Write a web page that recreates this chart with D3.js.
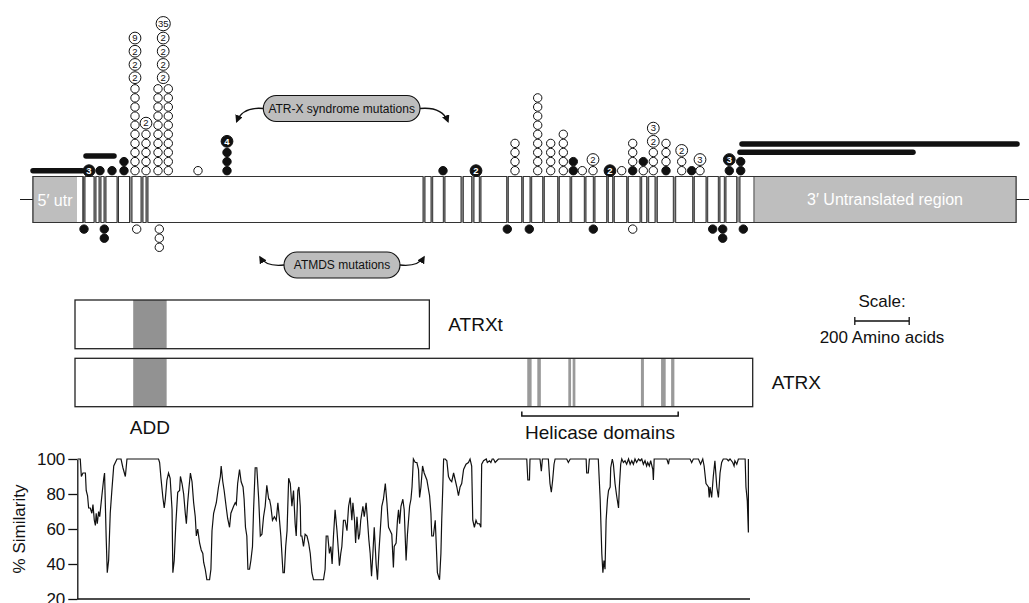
<!DOCTYPE html>
<html>
<head>
<meta charset="utf-8">
<script src="https://cdn.jsdelivr.net/npm/d3@7/dist/d3.min.js"></script>
<style>
body { margin: 0; background: #fff; }
svg { display: block; font-family: "Liberation Sans", Arial, Helvetica, sans-serif; }
</style>
</head>
<body>
<svg id="chart" width="1029" height="603"></svg>
<script>
// gene diagram: positions in relative units along the drawn gene (0..1000)
var exons = [[3,53],[55,64],[66,69],[71,74],[76,87],[88.5,99.5],[102,111],[113,116],[118,393],
  [395,401],[402.7,413.3],[415,431],[433.3,441.7],[444,449.3],[451,476.7],[478.3,491.7],[493.3,500],
  [501.7,512.7],[514.3,527.7],[529.3,540],[541.7,554.3],[556,563.3],[565,576.7],[578.3,582.7],
  [584.3,596.7],[598.3,610],[611.7,616.7],[618.7,625],[627.3,643.3],[645.7,662.7],[664.3,676],
  [677.7,688.3],[690,694.3],[696,706.7],[710,986]];
var utr5 = [3,47];
var utr3 = [724,986];

// mutation stacks: o = open circle, f = filled circle, trailing digits = count label
var mutsAbove = [
  {pos:59, stack:["f3"]},
  {pos:70, stack:["f"]},
  {pos:82, stack:["f"]},
  {pos:94, stack:["f","f"]},
  {pos:105, stack:["o","o","o","o","o","o","o","o","o","o","o2","o2","o2","o9"]},
  {pos:116, stack:["o","o","o","o","o","o2"]},
  {pos:128, stack:["o","o","o","o","o","o","o","o","o","o"]},
  {pos:138.3, stack:["o","o","o","o","o","o","o","o","o","o"]},
  {pos:133.2, skip:10, stack:["o2","o2","o2","o2","o35"]},
  {pos:168, stack:["o"]},
  {pos:197, stack:["f","f","f","f4"]},
  {pos:413, stack:["f"]},
  {pos:446, stack:["f2"]},
  {pos:485, stack:["o","o","o","o"]},
  {pos:507.7, stack:["o","o","o","o","o","o","o","o","o"]},
  {pos:520.7, stack:["o","o","o","o"]},
  {pos:533.3, stack:["o","o","o","o","o"]},
  {pos:543.3, stack:["f","f"]},
  {pos:552.3, stack:["o"]},
  {pos:563, stack:["o","o2"]},
  {pos:580, stack:["f2"]},
  {pos:591.7, stack:["o"]},
  {pos:602.7, stack:["f","o","o","o"]},
  {pos:613.3, stack:["o","f"]},
  {pos:623.3, stack:["o","o","o","o2","o3"]},
  {pos:636, stack:["f","o","o","o"]},
  {pos:651.7, stack:["o","o","o2"]},
  {pos:661.7, stack:["f"]},
  {pos:670, stack:["o","o3"]},
  {pos:699.3, stack:["f","f3"]},
  {pos:710.7, stack:["f","f"]}
];
var mutsBelow = [
  {pos:54, stack:["f"]},
  {pos:74.3, stack:["f","f"]},
  {pos:106.7, stack:["o"]},
  {pos:129.3, stack:["o","o","o"]},
  {pos:477.3, stack:["f"]},
  {pos:499.3, stack:["f"]},
  {pos:563.3, stack:["f"]},
  {pos:602.7, stack:["o"]},
  {pos:682.7, stack:["f"]},
  {pos:692.7, stack:["f","f"]},
  {pos:713.3, stack:["f"]}
];
// deletions (black bars), lane = stacking level above the gene
var deletions = [
  {from:3, to:52, lane:0},
  {from:56, to:84, lane:1},
  {from:710, to:883, lane:2},
  {from:712, to:987, lane:3}
];

// protein (amino acids)
var atrxLength = 2492;
var atrxtLength = 1303;
var addDomain = [214, 337];
var helicaseStripes = [[1663,1679],[1700,1713],[1814,1824],[1830,1840],[2081,2092],[2155,2172],[2192,2204]];
var helicaseSpan = [1643, 2218];
var scaleBarAA = 200;

// % similarity along the protein: [amino acid, percent]
var similarity = [
  [1,100],[11,100],[15,90],[21,92],[30,92],[33,82],[38,79],[42,72],[48,72],[54,69],[58,74],[63,65],[67,62],
  [70,69],[74,63],[79,70],[83,67],[91,79],[98,89],[101,92],[107,55],[111,35],[116,42],[122,69],[128,82],
  [135,96],[147,100],[157,100],[162,100],[169,95],[178,90],[184,100],[190,100],[295,100],[301,100],[305,98],
  [310,89],[317,78],[322,72],[326,77],[332,88],[338,92],[344,89],[351,71],[354,35],[359,42],[365,63],[372,81],
  [379,82],[382,90],[388,86],[394,80],[400,69],[404,63],[409,75],[414,84],[419,92],[425,87],[431,75],[437,67],
  [441,56],[446,60],[453,52],[459,48],[465,46],[468,41],[474,37],[480,31],[490,31],[495,37],[499,59],[505,69],
  [515,75],[523,84],[530,90],[533,96],[539,87],[544,82],[552,72],[557,66],[564,61],[569,69],[574,71],[579,73],
  [585,75],[589,74],[594,86],[601,94],[607,87],[614,84],[618,77],[623,61],[628,56],[632,37],[638,37],[643,42],
  [649,50],[653,71],[659,95],[665,95],[672,77],[678,56],[684,57],[690,67],[696,73],[702,85],[709,77],[712,77],
  [717,73],[723,65],[730,67],[737,65],[743,75],[748,67],[754,56],[762,35],[767,35],[772,50],[777,59],[783,89],
  [789,86],[795,73],[801,82],[807,63],[811,56],[817,82],[821,84],[826,73],[828,56],[832,56],[838,50],[844,57],
  [851,56],[857,52],[863,46],[869,35],[875,31],[912,31],[918,37],[922,56],[928,56],[934,46],[939,50],[944,40],
  [949,56],[955,71],[962,59],[968,46],[971,39],[976,46],[980,50],[986,65],[992,65],[999,59],[1005,73],[1011,78],
  [1017,65],[1021,75],[1027,65],[1031,52],[1036,67],[1042,54],[1046,57],[1050,65],[1058,73],[1063,67],[1070,75],
  [1075,65],[1080,54],[1085,46],[1090,33],[1095,46],[1100,61],[1107,40],[1112,31],[1117,46],
  [1128,73],[1134,77],[1141,86],[1147,75],[1153,61],[1159,59],[1165,57],[1171,38],[1174,50],[1181,52],[1186,65],
  [1190,71],[1194,63],[1199,73],[1206,77],[1211,71],[1218,42],[1223,57],[1231,73],[1236,77],[1240,84],[1245,100],
  [1252,98],[1258,98],[1264,94],[1268,78],[1273,84],[1279,96],[1285,92],[1295,88],[1305,79],[1310,69],[1313,56],
  [1319,56],[1326,65],[1329,54],[1334,35],[1342,31],[1347,46],[1350,65],[1354,84],[1357,100],[1363,100],[1369,99],
  [1375,90],[1381,88],[1387,87],[1394,92],[1400,88],[1406,84],[1412,79],[1418,84],[1424,86],[1431,94],[1440,97],
  [1449,98],[1455,100],[1461,96],[1465,65],[1471,61],[1477,65],[1482,63],[1490,63],[1495,61],[1498,97],[1505,99],
  [1515,100],[1519,98],[1527,99],[1532,98],[1537,100],[1542,100],[1548,98],[1554,99],[1560,100],[1573,100],
  [1665,100],[1669,88],[1675,88],[1677,100],[1714,100],[1719,93],[1723,100],[1745,100],[1751,86],[1756,81],
  [1761,88],[1766,97],[1770,100],[1813,100],[1819,98],[1826,100],[1885,100],[1887,92],[1893,92],[1897,100],
  [1930,100],[1937,77],[1943,46],[1947,35],[1951,42],[1955,37],[1959,65],[1964,77],[1968,82],[1974,84],[1976,95],
  [1982,100],[1986,97],[1992,86],[1998,79],[2005,72],[2008,84],[2013,97],[2017,100],[2023,98],[2029,99],[2035,97],
  [2042,100],[2048,97],[2054,99],[2060,97],[2066,100],[2072,98],[2079,100],[2085,99],[2091,100],[2097,97],
  [2103,99],[2109,96],[2113,98],[2119,96],[2124,99],[2132,94],[2134,88],[2137,100],[2184,100],[2190,97],
  [2193,100],[2270,100],[2276,98],[2282,100],[2301,100],[2309,97],[2317,100],[2322,96],[2329,86],[2338,84],
  [2341,78],[2344,84],[2350,78],[2356,90],[2362,99],[2369,84],[2375,78],[2381,92],[2387,98],[2393,100],
  [2406,100],[2412,99],[2418,100],[2428,98],[2433,96],[2436,99],[2443,97],[2449,100],[2467,100],[2474,100],
  [2477,84],[2482,76],[2486,58],[2486,100]
];
var simTicks = [20, 40, 60, 80, 100];

var svg = d3.select("#chart");
var ink = "#1a1a1a";

// ---------- gene diagram ----------
var gx = d3.scaleLinear().domain([0, 1000]).range([30, 1030]);
var barTop = 176.5, barH = 46, barMid = barTop + barH / 2;

svg.append("line")
  .attr("x1", gx(-10)).attr("x2", gx(999))
  .attr("y1", barMid).attr("y2", barMid)
  .attr("stroke", ink).attr("stroke-width", 1.2);

svg.append("rect")
  .attr("x", gx(exons[0][0])).attr("y", barTop)
  .attr("width", gx(exons[exons.length - 1][1]) - gx(exons[0][0])).attr("height", barH)
  .attr("fill", "#8c8c8c");

svg.selectAll("rect.exon").data(exons).enter().append("rect")
  .attr("class", "exon")
  .attr("x", d => gx(d[0])).attr("y", barTop)
  .attr("width", d => gx(d[1]) - gx(d[0])).attr("height", barH)
  .attr("fill", "#fff").attr("stroke", "#333").attr("stroke-width", 1);

[utr5, utr3].forEach(u => {
  svg.append("rect")
    .attr("x", gx(u[0]) + 0.5).attr("y", barTop + 0.5)
    .attr("width", gx(u[1]) - gx(u[0]) - 0.5).attr("height", barH - 1)
    .attr("fill", "#bebebe");
});
svg.append("rect")
  .attr("x", gx(utr3[0])).attr("y", barTop)
  .attr("width", gx(utr3[1]) - gx(utr3[0])).attr("height", barH)
  .attr("fill", "none").attr("stroke", "#333");
svg.append("rect")
  .attr("x", gx(exons[0][0])).attr("y", barTop)
  .attr("width", gx(exons[0][1]) - gx(exons[0][0])).attr("height", barH)
  .attr("fill", "none").attr("stroke", "#333");

svg.append("text").attr("x", gx((utr5[0] + utr5[1]) / 2)).attr("y", barMid + 6.5)
  .attr("text-anchor", "middle").attr("fill", "#fff").attr("font-size", 16).text("5\u2032 utr");
svg.append("text").attr("x", gx((utr3[0] + utr3[1]) / 2)).attr("y", barMid + 5)
  .attr("text-anchor", "middle").attr("fill", "#fff").attr("font-size", 16).text("3\u2032 Untranslated region");

// deletions
var laneOffset = [5.8, 20.5, 24.2, 32.5];
svg.selectAll("line.del").data(deletions).enter().append("line")
  .attr("class", "del")
  .attr("x1", d => gx(d.from)).attr("x2", d => gx(d.to))
  .attr("y1", d => barTop - laneOffset[d.lane]).attr("y2", d => barTop - laneOffset[d.lane])
  .attr("stroke", "#111").attr("stroke-width", 5.5).attr("stroke-linecap", "round");

// mutation symbols
var rPlain = 4.2, rLab = 5.9, rBig = 7.1;
function radiusOf(tok) {
  var lab = tok.slice(1);
  if (!lab) return rPlain;
  return lab.length > 1 ? rBig : rLab;
}
function drawStacks(list, dir) {
  list.forEach(m => {
    var cx = gx(m.pos);
    var y = dir < 0 ? barTop - 5.8 : barTop + barH + 6.6;
    var prevHalf = null;
    if (m.skip) {
      y += dir * 9.1 * (m.skip - 1);
      prevHalf = 4.55;
    }
    m.stack.forEach(tok => {
      var r = radiusOf(tok);
      var half = tok.length > 1 ? r + 0.7 : 4.55;
      if (prevHalf !== null) y += dir * (prevHalf + half);
      prevHalf = half;
      var filled = tok[0] === "f";
      svg.append("circle")
        .attr("cx", cx).attr("cy", y).attr("r", r)
        .attr("fill", filled ? "#111" : "#fff")
        .attr("stroke", "#111").attr("stroke-width", 1);
      var lab = tok.slice(1);
      if (lab) {
        svg.append("text")
          .attr("x", cx).attr("y", y + 3.3)
          .attr("text-anchor", "middle")
          .attr("font-size", 9.5)
          .attr("font-weight", filled ? "bold" : "normal")
          .attr("fill", filled ? "#fff" : "#111")
          .text(lab);
      }
    });
  });
}
drawStacks(mutsAbove, -1);
drawStacks(mutsBelow, 1);

// callout pills
var defs = svg.append("defs");
defs.append("marker").attr("id", "ah")
  .attr("viewBox", "0 0 10 10").attr("refX", 8).attr("refY", 5)
  .attr("markerWidth", 6).attr("markerHeight", 6).attr("orient", "auto")
  .append("path").attr("d", "M0,0 L10,5 L0,10 z").attr("fill", "#111");

var callouts = [
  {text: "ATR-X syndrome mutations", from: 233.3, to: 390, cy: 108.5, h: 26, left: 206.7, right: 418, tipDy: 13},
  {text: "ATMDS mutations", from: 254, to: 370, cy: 265, h: 26, left: 230, right: 394, tipDy: -8}
];
callouts.forEach(c => {
  var x0 = gx(c.from), x1 = gx(c.to);
  svg.append("rect")
    .attr("x", x0).attr("y", c.cy - c.h / 2).attr("width", x1 - x0).attr("height", c.h)
    .attr("rx", c.h / 2).attr("fill", "#bdbdbd").attr("stroke", "#111").attr("stroke-width", 1.1);
  svg.append("text").attr("x", (x0 + x1) / 2).attr("y", c.cy + 4.3)
    .attr("text-anchor", "middle").attr("font-size", 12).attr("fill", "#111").text(c.text);
  var lx = gx(c.left), rx = gx(c.right);
  svg.append("path")
    .attr("d", "M" + x0 + "," + c.cy + " Q" + (lx + 6) + "," + (c.cy - (c.tipDy > 0 ? 2 : -2)) + " " + lx + "," + (c.cy + c.tipDy))
    .attr("fill", "none").attr("stroke", "#111").attr("stroke-width", 1.3).attr("marker-end", "url(#ah)");
  svg.append("path")
    .attr("d", "M" + x1 + "," + c.cy + " Q" + (rx - 6) + "," + (c.cy - (c.tipDy > 0 ? 2 : -2)) + " " + rx + "," + (c.cy + c.tipDy))
    .attr("fill", "none").attr("stroke", "#111").attr("stroke-width", 1.3).attr("marker-end", "url(#ah)");
});

// ---------- proteins ----------
var px = d3.scaleLinear().domain([0, atrxLength]).range([75, 752.7]);
var proteins = [
  {name: "ATRXt", len: atrxtLength, y: 300, h: 48.7},
  {name: "ATRX", len: atrxLength, y: 358.3, h: 48.4}
];
proteins.forEach((p, i) => {
  svg.append("rect").attr("x", px(0)).attr("y", p.y)
    .attr("width", px(p.len) - px(0)).attr("height", p.h)
    .attr("fill", "#fff");
  svg.append("rect").attr("x", px(addDomain[0])).attr("y", p.y)
    .attr("width", px(addDomain[1]) - px(addDomain[0])).attr("height", p.h)
    .attr("fill", "#929292");
  if (i === 1) {
    svg.selectAll("rect.hel").data(helicaseStripes).enter().append("rect")
      .attr("class", "hel")
      .attr("x", d => px(d[0])).attr("y", p.y)
      .attr("width", d => px(d[1]) - px(d[0])).attr("height", p.h)
      .attr("fill", "#9a9a9a");
  }
  svg.append("rect").attr("x", px(0)).attr("y", p.y)
    .attr("width", px(p.len) - px(0)).attr("height", p.h)
    .attr("fill", "none").attr("stroke", "#222").attr("stroke-width", 1.3);
  svg.append("text").attr("x", px(p.len) + 19).attr("y", p.y + p.h / 2 + 6.5)
    .attr("font-size", 19).attr("fill", "#111").text(p.name);
});
svg.append("text").attr("x", px((addDomain[0] + addDomain[1]) / 2)).attr("y", 434)
  .attr("text-anchor", "middle").attr("font-size", 19).attr("fill", "#111").text("ADD");

var bx0 = px(helicaseSpan[0]), bx1 = px(helicaseSpan[1]);
svg.append("path")
  .attr("d", "M" + bx0 + ",411.5 V416 H" + bx1 + " V411.5")
  .attr("fill", "none").attr("stroke", "#111").attr("stroke-width", 1.5);
svg.append("text").attr("x", (bx0 + bx1) / 2).attr("y", 439)
  .attr("text-anchor", "middle").attr("font-size", 19).attr("fill", "#111").text("Helicase domains");

// scale bar
var sbw = px(scaleBarAA) - px(0), sbc = 882;
svg.append("text").attr("x", sbc).attr("y", 307).attr("text-anchor", "middle")
  .attr("font-size", 17).attr("fill", "#111").text("Scale:");
svg.append("path")
  .attr("d", "M" + (sbc - sbw / 2) + ",317 V325 M" + (sbc - sbw / 2) + ",321 H" + (sbc + sbw / 2) + " M" + (sbc + sbw / 2) + ",317 V325")
  .attr("fill", "none").attr("stroke", "#111").attr("stroke-width", 1.3);
svg.append("text").attr("x", sbc).attr("y", 343).attr("text-anchor", "middle")
  .attr("font-size", 17).attr("fill", "#111").text("200 Amino acids");

// ---------- similarity plot ----------
var sx = d3.scaleLinear().domain([0, atrxLength]).range([77.3, 750]);
var sy = d3.scaleLinear().domain([20, 100]).range([599, 459]);

var yAxis = svg.append("g")
  .attr("transform", "translate(" + sx(0) + ",0)")
  .call(d3.axisLeft(sy).tickValues(simTicks).tickSize(9).tickSizeOuter(0).tickPadding(3));
yAxis.attr("font-family", null).attr("font-size", 17);
yAxis.selectAll("text").attr("fill", "#111");
yAxis.selectAll("line, path").attr("stroke", "#111").attr("stroke-width", 1.3);

svg.append("line")
  .attr("x1", sx(0)).attr("x2", sx(atrxLength))
  .attr("y1", sy(20)).attr("y2", sy(20))
  .attr("stroke", "#111").attr("stroke-width", 1.3);

svg.append("text")
  .attr("transform", "translate(25," + sy(60) + ") rotate(-90)")
  .attr("text-anchor", "middle").attr("font-size", 17).attr("fill", "#111")
  .text("% Similarity");

svg.append("path").datum(similarity)
  .attr("d", d3.line().x(d => sx(d[0])).y(d => sy(d[1])))
  .attr("fill", "none").attr("stroke", "#111").attr("stroke-width", 1.2)
  .attr("stroke-linejoin", "miter");
</script>
</body>
</html>
